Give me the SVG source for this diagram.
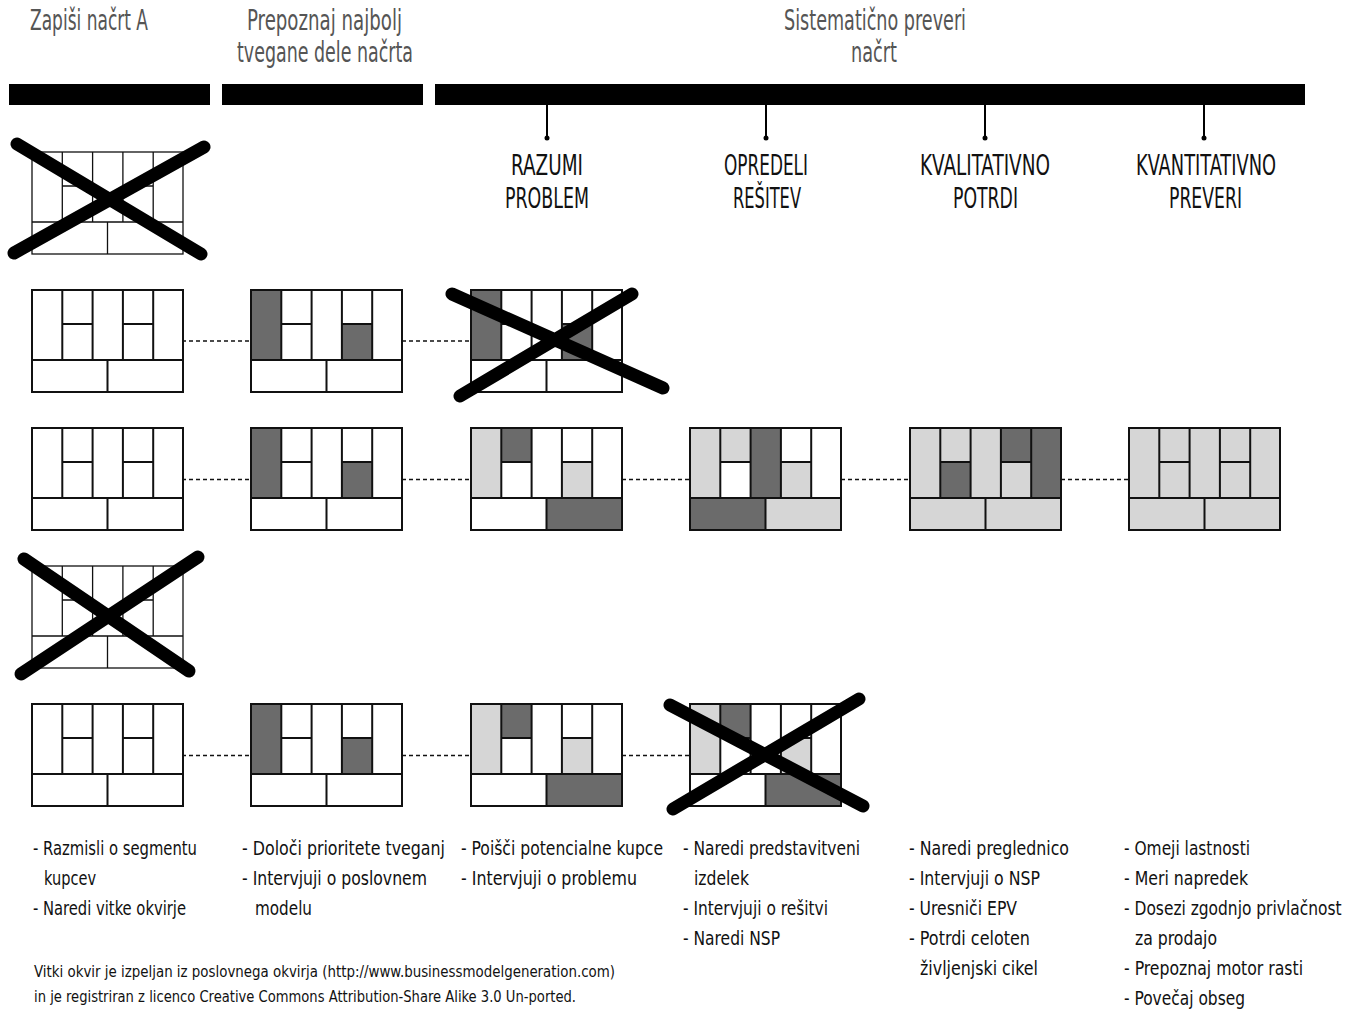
<svg xmlns="http://www.w3.org/2000/svg" xmlns:xlink="http://www.w3.org/1999/xlink" width="1359" height="1012" viewBox="0 0 1359 1012">
  <style>
    .hd { font-family: "Liberation Sans Narrow", "DejaVu Sans Condensed", "Liberation Sans", sans-serif; font-size: 28px; fill: #555; }
    .st { font-family: "Liberation Sans Narrow", "DejaVu Sans Condensed", "Liberation Sans", sans-serif; font-size: 28px; fill: #111; }
    .tx { font-family: "Liberation Sans Narrow", "DejaVu Sans Condensed", "Liberation Sans", sans-serif; font-size: 20px; fill: #111; }
    .fn { font-family: "Liberation Sans Narrow", "DejaVu Sans Condensed", "Liberation Sans", sans-serif; font-size: 16px; fill: #111; }
    .bar { fill: #000; }
    .tick { stroke: #000; stroke-width: 2; }
    .bg { fill: #fff; }
    .d { fill: #6b6b6b; }
    .l { fill: #d6d6d6; }
    .g { stroke: #111; stroke-width: 2; fill: none; }
    .gt { stroke: #111; stroke-width: 1.3; fill: none; }
    .x { stroke: #000; stroke-width: 13; stroke-linecap: round; fill: none; }
    .link { stroke: #111; stroke-width: 1.5; stroke-dasharray: 4 3; fill: none; }
  </style>
  <defs>
    <!-- lean canvas grid: 5 columns on top, 2 boxes below -->
    <g id="grid">
      <rect x="0" y="0" width="151" height="102"/>
      <path d="M30.3 0V70M60.6 0V70M90.9 0V70M121.2 0V70M0 70H151M30.3 34H60.6M90.9 34H121.2M75.5 70V102"/>
    </g>
    <!-- cell shapes -->
    <rect id="c1" x="0" y="0" width="30.3" height="70"/>
    <rect id="c2a" x="30.3" y="0" width="30.3" height="34"/>
    <rect id="c2b" x="30.3" y="34" width="30.3" height="36"/>
    <rect id="c3" x="60.6" y="0" width="30.3" height="70"/>
    <rect id="c4a" x="90.9" y="0" width="30.3" height="34"/>
    <rect id="c4b" x="90.9" y="34" width="30.3" height="36"/>
    <rect id="c5" x="121.2" y="0" width="29.8" height="70"/>
    <rect id="b1" x="0" y="70" width="75.5" height="32"/>
    <rect id="b2" x="75.5" y="70" width="75.5" height="32"/>
    <rect id="base" x="0" y="0" width="151" height="102"/>
  </defs>

  <!-- phase headers -->
  <g id="phase-headers">
    <text class="hd" x="30" y="30" textLength="118" lengthAdjust="spacingAndGlyphs">Zapiši načrt A</text>
    <text class="hd" x="247" y="30" textLength="155" lengthAdjust="spacingAndGlyphs">Prepoznaj najbolj</text>
    <text class="hd" x="237" y="62" textLength="176" lengthAdjust="spacingAndGlyphs">tvegane dele načrta</text>
    <text class="hd" x="784" y="30" textLength="182" lengthAdjust="spacingAndGlyphs">Sistematično preveri</text>
    <text class="hd" x="851" y="62" textLength="46" lengthAdjust="spacingAndGlyphs">načrt</text>
    <rect class="bar" x="9" y="84" width="201" height="21"/>
    <rect class="bar" x="222" y="84" width="201" height="21"/>
    <rect class="bar" x="435" y="84" width="870" height="21"/>
  </g>

  <!-- stages of the validation phase -->
  <g id="stage-problem">
    <line class="tick" x1="547" y1="105" x2="547" y2="138"/>
    <circle cx="547" cy="138" r="2.5"/>
    <text class="st" x="511" y="175" textLength="72" lengthAdjust="spacingAndGlyphs">RAZUMI</text>
    <text class="st" x="505" y="208" textLength="84" lengthAdjust="spacingAndGlyphs">PROBLEM</text>
  </g>
  <g id="stage-solution">
    <line class="tick" x1="766" y1="105" x2="766" y2="138"/>
    <circle cx="766" cy="138" r="2.5"/>
    <text class="st" x="724" y="175" textLength="84" lengthAdjust="spacingAndGlyphs">OPREDELI</text>
    <text class="st" x="733" y="208" textLength="68" lengthAdjust="spacingAndGlyphs">REŠITEV</text>
  </g>
  <g id="stage-qualitative">
    <line class="tick" x1="985" y1="105" x2="985" y2="138"/>
    <circle cx="985" cy="138" r="2.5"/>
    <text class="st" x="920" y="175" textLength="130" lengthAdjust="spacingAndGlyphs">KVALITATIVNO</text>
    <text class="st" x="953" y="208" textLength="65" lengthAdjust="spacingAndGlyphs">POTRDI</text>
  </g>
  <g id="stage-quantitative">
    <line class="tick" x1="1204" y1="105" x2="1204" y2="138"/>
    <circle cx="1204" cy="138" r="2.5"/>
    <text class="st" x="1136" y="175" textLength="140" lengthAdjust="spacingAndGlyphs">KVANTITATIVNO</text>
    <text class="st" x="1169" y="208" textLength="73" lengthAdjust="spacingAndGlyphs">PREVERI</text>
  </g>

  <!-- dashed links between canvases -->
  <g id="connectors">
    <path class="link" d="M182 341H251M402 341H471"/>
    <path class="link" d="M182 479.5H251M402 479.5H471M622 479.5H690M841 479.5H910M1061 479.5H1129"/>
    <path class="link" d="M182 755.5H251M402 755.5H471M622 755.5H690"/>
  </g>

  <!-- row 1 -->
  <g id="canvas-r1-a" transform="translate(32 152)">
    <use href="#base" class="bg"/>
    <use href="#grid" class="gt"/>
    <path class="x" d="M-15 -8L169 102M172 -5L-18 101"/>
  </g>

  <!-- row 2 -->
  <g id="canvas-r2-a" transform="translate(32 290)">
    <use href="#base" class="bg"/>
    <use href="#grid" class="g"/>
  </g>
  <g id="canvas-r2-b" transform="translate(251 290)">
    <use href="#base" class="bg"/>
    <use href="#c1" class="d"/><use href="#c4b" class="d"/>
    <use href="#grid" class="g"/>
  </g>
  <g id="canvas-r2-c" transform="translate(471 290)">
    <use href="#base" class="bg"/>
    <use href="#c1" class="d"/><use href="#c4b" class="d"/>
    <use href="#grid" class="g"/>
    <path class="x" d="M-19 4L192 98M161 4L-11 106"/>
  </g>

  <!-- row 3 -->
  <g id="canvas-r3-a" transform="translate(32 428)">
    <use href="#base" class="bg"/>
    <use href="#grid" class="g"/>
  </g>
  <g id="canvas-r3-b" transform="translate(251 428)">
    <use href="#base" class="bg"/>
    <use href="#c1" class="d"/><use href="#c4b" class="d"/>
    <use href="#grid" class="g"/>
  </g>
  <g id="canvas-r3-c" transform="translate(471 428)">
    <use href="#base" class="bg"/>
    <use href="#c1" class="l"/><use href="#c2a" class="d"/><use href="#c4b" class="l"/><use href="#b2" class="d"/>
    <use href="#grid" class="g"/>
  </g>
  <g id="canvas-r3-d" transform="translate(690 428)">
    <use href="#base" class="bg"/>
    <use href="#c1" class="l"/><use href="#c2a" class="l"/><use href="#c3" class="d"/><use href="#c4b" class="l"/>
    <use href="#b1" class="d"/><use href="#b2" class="l"/>
    <use href="#grid" class="g"/>
  </g>
  <g id="canvas-r3-e" transform="translate(910 428)">
    <use href="#base" class="l"/>
    <use href="#c2b" class="d"/><use href="#c4a" class="d"/><use href="#c5" class="d"/>
    <use href="#grid" class="g"/>
  </g>
  <g id="canvas-r3-f" transform="translate(1129 428)">
    <use href="#base" class="l"/>
    <use href="#grid" class="g"/>
  </g>

  <!-- row 4 -->
  <g id="canvas-r4-a" transform="translate(32 566)">
    <use href="#base" class="bg"/>
    <use href="#grid" class="gt"/>
    <path class="x" d="M-8 -7L157 105M166 -9L-11 108"/>
  </g>

  <!-- row 5 -->
  <g id="canvas-r5-a" transform="translate(32 704)">
    <use href="#base" class="bg"/>
    <use href="#grid" class="g"/>
  </g>
  <g id="canvas-r5-b" transform="translate(251 704)">
    <use href="#base" class="bg"/>
    <use href="#c1" class="d"/><use href="#c4b" class="d"/>
    <use href="#grid" class="g"/>
  </g>
  <g id="canvas-r5-c" transform="translate(471 704)">
    <use href="#base" class="bg"/>
    <use href="#c1" class="l"/><use href="#c2a" class="d"/><use href="#c4b" class="l"/><use href="#b2" class="d"/>
    <use href="#grid" class="g"/>
  </g>
  <g id="canvas-r5-d" transform="translate(690 704)">
    <use href="#base" class="bg"/>
    <use href="#c1" class="l"/><use href="#c2a" class="d"/><use href="#c4b" class="l"/><use href="#b2" class="d"/>
    <use href="#grid" class="g"/>
    <path class="x" d="M-20 1L173 102M169 -5L-17 105"/>
  </g>

  <!-- activity lists -->
  <g id="tasks-sketch">
    <text class="tx" x="33" y="855" textLength="164" lengthAdjust="spacingAndGlyphs">- Razmisli o segmentu</text>
    <text class="tx" x="44" y="885" textLength="52" lengthAdjust="spacingAndGlyphs">kupcev</text>
    <text class="tx" x="33" y="915" textLength="153" lengthAdjust="spacingAndGlyphs">- Naredi vitke okvirje</text>
  </g>
  <g id="tasks-risk">
    <text class="tx" x="242" y="855" textLength="203" lengthAdjust="spacingAndGlyphs">- Določi prioritete tveganj</text>
    <text class="tx" x="242" y="885" textLength="185" lengthAdjust="spacingAndGlyphs">- Intervjuji o poslovnem</text>
    <text class="tx" x="255" y="915" textLength="57" lengthAdjust="spacingAndGlyphs">modelu</text>
  </g>
  <g id="tasks-problem">
    <text class="tx" x="461" y="855" textLength="202" lengthAdjust="spacingAndGlyphs">- Poišči potencialne kupce</text>
    <text class="tx" x="461" y="885" textLength="176" lengthAdjust="spacingAndGlyphs">- Intervjuji o problemu</text>
  </g>
  <g id="tasks-solution">
    <text class="tx" x="683" y="855" textLength="177" lengthAdjust="spacingAndGlyphs">- Naredi predstavitveni</text>
    <text class="tx" x="694" y="885" textLength="55" lengthAdjust="spacingAndGlyphs">izdelek</text>
    <text class="tx" x="683" y="915" textLength="145" lengthAdjust="spacingAndGlyphs">- Intervjuji o rešitvi</text>
    <text class="tx" x="683" y="945" textLength="97" lengthAdjust="spacingAndGlyphs">- Naredi NSP</text>
  </g>
  <g id="tasks-qualitative">
    <text class="tx" x="909" y="855" textLength="160" lengthAdjust="spacingAndGlyphs">- Naredi preglednico</text>
    <text class="tx" x="909" y="885" textLength="131" lengthAdjust="spacingAndGlyphs">- Intervjuji o NSP</text>
    <text class="tx" x="909" y="915" textLength="108" lengthAdjust="spacingAndGlyphs">- Uresniči EPV</text>
    <text class="tx" x="909" y="945" textLength="121" lengthAdjust="spacingAndGlyphs">- Potrdi celoten</text>
    <text class="tx" x="920" y="975" textLength="118" lengthAdjust="spacingAndGlyphs">življenjski cikel</text>
  </g>
  <g id="tasks-quantitative">
    <text class="tx" x="1124" y="855" textLength="126" lengthAdjust="spacingAndGlyphs">- Omeji lastnosti</text>
    <text class="tx" x="1124" y="885" textLength="124" lengthAdjust="spacingAndGlyphs">- Meri napredek</text>
    <!-- long line: narrowed horizontally so it stays inside the right edge -->
    <g transform="translate(1124 915) scale(0.75 1)">
      <text class="tx" x="0" y="0" textLength="290" lengthAdjust="spacingAndGlyphs">- Dosezi zgodnjo privlačnost</text>
    </g>
    <text class="tx" x="1135" y="945" textLength="82" lengthAdjust="spacingAndGlyphs">za prodajo</text>
    <text class="tx" x="1124" y="975" textLength="179" lengthAdjust="spacingAndGlyphs">- Prepoznaj motor rasti</text>
    <text class="tx" x="1124" y="1005" textLength="121" lengthAdjust="spacingAndGlyphs">- Povečaj obseg</text>
  </g>

  <!-- licence note -->
  <g id="licence">
    <text class="fn" x="34" y="977" textLength="581" lengthAdjust="spacingAndGlyphs">Vitki okvir je izpeljan iz poslovnega okvirja (http://www.businessmodelgeneration.com)</text>
    <text class="fn" x="34" y="1002" textLength="542" lengthAdjust="spacingAndGlyphs">in je registriran z licenco Creative Commons Attribution-Share Alike 3.0 Un-ported.</text>
  </g>
</svg>
